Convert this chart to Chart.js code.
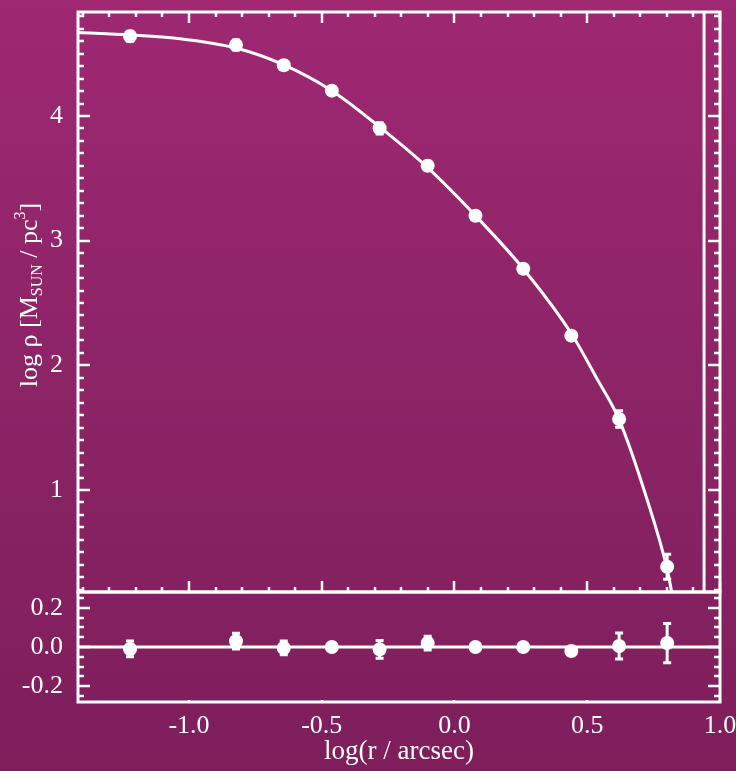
<!DOCTYPE html>
<html><head><meta charset="utf-8">
<script src="https://cdn.jsdelivr.net/npm/chart.js@4.4.1/dist/chart.umd.min.js"></script>
<style>
html,body{margin:0;padding:0;width:736px;height:771px;overflow:hidden;background:linear-gradient(to bottom,#9e2872 0%,#8c2466 50%,#7e1e5b 100%);}
canvas{position:absolute;left:0;top:0;}
</style></head><body>
<canvas id="topPanel" width="736" height="771"></canvas>
<canvas id="botPanel" width="736" height="771"></canvas>
<script>
// ---- data ----
const logR      = [-1.222, -0.823, -0.643, -0.462, -0.282, -0.101, 0.079, 0.259, 0.440, 0.620, 0.801];
const logRho    = [4.639, 4.569, 4.407, 4.203, 3.901, 3.601, 3.200, 2.775, 2.238, 1.570, 0.385];
const rhoErr    = [0.04, 0.04, 0.035, 0.015, 0.045, 0.035, 0.01, 0.01, 0.02, 0.066, 0.10];
const residual  = [-0.01, 0.03, -0.005, 0.0, -0.012, 0.02, 0.0, 0.0, -0.02, 0.005, 0.02];
const modelLogR   = [-1.418, -1.222, -1.041, -0.823, -0.643, -0.462, -0.282, -0.101, 0.079, 0.259, 0.440, 0.533, 0.620, 0.726, 0.801, 0.818];
const modelLogRho = [4.669, 4.650, 4.622, 4.545, 4.410, 4.203, 3.912, 3.585, 3.200, 2.775, 2.255, 1.906, 1.565, 0.920, 0.365, 0.182];
const limitLogR = 0.94;
const xTicks   = [-1.0, -0.5, 0.0, 0.5, 1.0];
const rhoTicks = [1, 2, 3, 4];
const resTicks = [-0.2, 0.0, 0.2];
const xRange   = [-1.418, 1.0];
const rhoRange = [0.182, 4.834];
const resRange = [-0.28, 0.28];

Chart.defaults.font.family = "'Liberation Serif', 'Times New Roman', serif";
Chart.defaults.color = '#ffffff';

function tickList(min, max, step) {
  const out = [];
  const start = Math.ceil(min / step - 1e-9);
  const end = Math.floor(max / step + 1e-9);
  for (let k = start; k <= end; k++) out.push(k * step);
  return out;
}

const framePlugin = {
  id: 'frame',
  afterDatasetsDraw(chart, args, o) {
    const {ctx, chartArea: a, scales} = chart;
    ctx.save();
    ctx.strokeStyle = '#fff';
    ctx.lineWidth = 3;
    ctx.lineCap = 'butt';
    ctx.strokeRect(a.left, a.top, a.right - a.left, a.bottom - a.top);
    ctx.lineWidth = 2.5;
    const ys = scales.y, xs = scales.x;
    const isMajor = (v, step) => Math.abs(v / step - Math.round(v / step)) < 1e-6;
    tickList(ys.min, ys.max, o.yMinor).forEach(v => {
      const p = Math.round(ys.getPixelForValue(v));
      const len = isMajor(v, o.yMajor) ? o.yMajLen : o.yMinLen;
      ctx.beginPath();
      ctx.moveTo(a.left, p); ctx.lineTo(a.left + len, p);
      ctx.moveTo(a.right, p); ctx.lineTo(a.right - len, p);
      ctx.stroke();
    });
    tickList(xs.min, xs.max, o.xMinor).forEach(v => {
      const p = Math.round(xs.getPixelForValue(v));
      const maj = isMajor(v, o.xMajor);
      const lt = maj ? o.xTopMaj : o.xTopMin;
      const lb = maj ? o.xBotMaj : o.xBotMin;
      ctx.beginPath();
      if (lt > 0) { ctx.moveTo(p, a.top); ctx.lineTo(p, a.top + lt); }
      if (lb > 0) { ctx.moveTo(p, a.bottom); ctx.lineTo(p, a.bottom - lb); }
      ctx.stroke();
    });
    ctx.restore();
  }
};

const errorBarPlugin = {
  id: 'errbars',
  afterDatasetsDraw(chart) {
    const {ctx, scales} = chart;
    ctx.save();
    ctx.strokeStyle = '#fff';
    ctx.lineWidth = 3;
    chart.data.datasets.forEach(ds => {
      if (!ds.errors) return;
      ds.data.forEach((pt, i) => {
        const e = ds.errors[i];
        const x = scales.x.getPixelForValue(pt.x);
        const y1 = scales.y.getPixelForValue(pt.y + e);
        const y2 = scales.y.getPixelForValue(pt.y - e);
        ctx.beginPath();
        ctx.moveTo(x, y1); ctx.lineTo(x, y2);
        ctx.moveTo(x - 4, y1); ctx.lineTo(x + 4, y1);
        ctx.moveTo(x - 4, y2); ctx.lineTo(x + 4, y2);
        ctx.stroke();
      });
    });
    ctx.restore();
  }
};

const yTitlePlugin = {
  id: 'ytitle',
  afterDraw(chart) {
    const {ctx, chartArea: a} = chart;
    const fam = Chart.defaults.font.family;
    const parts = [['log \u03c1 [M', 26, 0], ['SUN', 16, 5], [' / pc', 26, 0], ['3', 16, -12], [']', 26, 0]];
    ctx.save();
    let total = 0;
    parts.forEach(p => { ctx.font = p[1] + 'px ' + fam; total += ctx.measureText(p[0]).width; });
    ctx.translate(37, (a.top + a.bottom) / 2 - 7);
    ctx.rotate(-Math.PI / 2);
    ctx.fillStyle = '#fff';
    ctx.textBaseline = 'alphabetic';
    ctx.textAlign = 'left';
    let x = -total / 2;
    parts.forEach(p => {
      ctx.font = p[1] + 'px ' + fam;
      ctx.fillText(p[0], x, p[2]);
      x += ctx.measureText(p[0]).width;
    });
    ctx.restore();
  }
};

const pts = (xs, ys) => xs.map((x, i) => ({x, y: ys[i]}));

new Chart(document.getElementById('topPanel'), {
  type: 'scatter',
  data: {
    datasets: [
      {data: pts(modelLogR, modelLogRho), showLine: true, borderColor: '#fff', borderWidth: 3,
       pointRadius: 0, cubicInterpolationMode: 'monotone', fill: false},
      {data: [{x: limitLogR, y: rhoRange[0]}, {x: limitLogR, y: rhoRange[1]}], showLine: true,
       borderColor: '#fff', borderWidth: 3, pointRadius: 0},
      {data: pts(logR, logRho), pointRadius: 7, backgroundColor: '#fff', borderWidth: 0, errors: rhoErr}
    ]
  },
  options: {
    responsive: false, animation: false, devicePixelRatio: 1,
    layout: {padding: {top: 12, right: 16, bottom: 179, left: 0}},
    plugins: {
      legend: {display: false}, tooltip: {enabled: false},
      frame: {yMinor: 0.1, yMajor: 1, yMajLen: 12, yMinLen: 6, xMinor: 0.1, xMajor: 0.5,
              xTopMaj: 11, xTopMin: 5, xBotMaj: 11, xBotMin: 5}
    },
    scales: {
      x: {type: 'linear', display: false, min: xRange[0], max: xRange[1]},
      y: {type: 'linear', min: rhoRange[0], max: rhoRange[1],
          grid: {display: false}, border: {display: false},
          afterBuildTicks: s => { s.ticks = rhoTicks.map(v => ({value: v})); },
          afterFit: s => { s.width = 78; s.paddingTop = 0; s.paddingBottom = 0; },
          ticks: {font: {size: 26}, color: '#fff', padding: 7, callback: v => String(v)}}
    }
  },
  plugins: [framePlugin, errorBarPlugin, yTitlePlugin]
});

new Chart(document.getElementById('botPanel'), {
  type: 'scatter',
  data: {
    datasets: [
      {data: [{x: xRange[0], y: 0}, {x: xRange[1], y: 0}], showLine: true, borderColor: '#fff',
       borderWidth: 3, pointRadius: 0},
      {data: pts(logR, residual), pointRadius: 7, backgroundColor: '#fff', borderWidth: 0, errors: rhoErr}
    ]
  },
  options: {
    responsive: false, animation: false, devicePixelRatio: 1,
    layout: {padding: {top: 592, right: 16, bottom: 0, left: 0}},
    plugins: {
      legend: {display: false}, tooltip: {enabled: false},
      frame: {yMinor: 0.05, yMajor: 0.2, yMajLen: 12, yMinLen: 6, xMinor: 0.1, xMajor: 0.5,
              xTopMaj: 0, xTopMin: 0, xBotMaj: 2, xBotMin: 0}
    },
    scales: {
      x: {type: 'linear', position: 'bottom', min: xRange[0], max: xRange[1],
          grid: {display: false}, border: {display: false},
          afterBuildTicks: s => { s.ticks = xTicks.map(v => ({value: v})); },
          afterFit: s => { s.height = 69; s.paddingLeft = 0; s.paddingRight = 0; },
          ticks: {font: {size: 26}, color: '#fff', padding: 1, maxRotation: 0, autoSkip: false,
                  callback: v => v.toFixed(1)},
          title: {display: true, text: 'log(r / arcsec)', color: '#fff', font: {size: 27},
                  padding: {top: 0, bottom: 3}}},
      y: {type: 'linear', min: resRange[0], max: resRange[1],
          grid: {display: false}, border: {display: false},
          afterBuildTicks: s => { s.ticks = resTicks.map(v => ({value: v})); },
          afterFit: s => { s.width = 78; s.paddingTop = 0; s.paddingBottom = 0; },
          ticks: {font: {size: 26}, color: '#fff', padding: 7, callback: v => v.toFixed(1)}}
    }
  },
  plugins: [framePlugin, errorBarPlugin]
});
</script>
</body></html>
